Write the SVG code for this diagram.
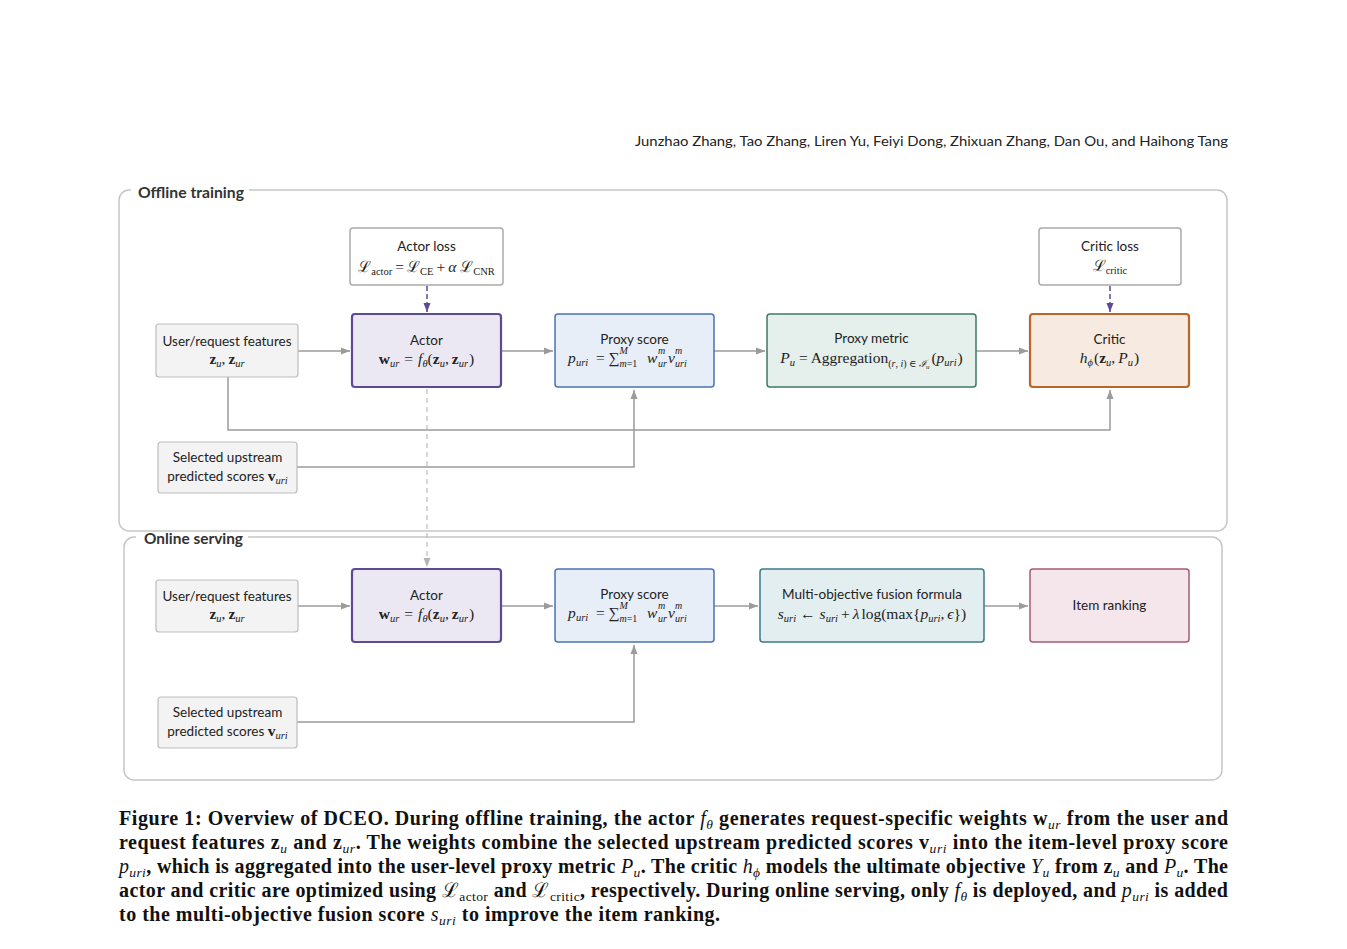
<svg xmlns="http://www.w3.org/2000/svg" width="1347" height="949" viewBox="0 0 1347 949">
<style>
.lbl{font-family:Lato,"Noto Sans",sans-serif;font-size:13.5px;fill:#222;text-anchor:middle}
.m{font-family:"Liberation Serif","DejaVu Serif",serif;font-size:15.5px;fill:#222}
.mc{text-anchor:middle}
.i{font-style:italic}
.b{font-weight:bold}
.s{font-size:10.5px}
.ss{font-size:10px}
.frame{fill:none;stroke:#c6c6c6;stroke-width:1.5}
.ftitle{font-family:Lato,"Noto Sans",sans-serif;font-weight:bold;font-size:14.5px;fill:#333}
.inp{fill:#f3f3f3;stroke:#bdbdbd;stroke-width:1.2}
.loss{fill:#fff;stroke:#aaa;stroke-width:1.5}
.actor{fill:#ece8f3;stroke:#5e4a94;stroke-width:2.2}
.proxy{fill:#e8eef7;stroke:#4a73b1;stroke-width:1.5}
.metric{fill:#e5efeb;stroke:#3f7a64;stroke-width:1.5}
.critic{fill:#f7eae0;stroke:#b9662b;stroke-width:2.2}
.fusion{fill:#e3eef1;stroke:#3c7a87;stroke-width:1.5}
.rank{fill:#f5e6eb;stroke:#a9587a;stroke-width:1.5}
.c{fill:none;stroke:#9b9b9b;stroke-width:1.5}
.cp{fill:none;stroke:#5e4a94;stroke-width:1.5;stroke-dasharray:5 3}
.cd{fill:none;stroke:#bbb;stroke-width:1.2;stroke-dasharray:5 4}
.hdr{font-family:Lato,"Noto Sans",sans-serif;font-size:14px;fill:#222}
.cap{font-family:"Liberation Serif","DejaVu Serif",serif;font-weight:bold;font-size:20px;fill:#111}
.mi{font-style:italic;font-weight:normal}
.cs{font-size:13.5px}
</style>
<defs>
<marker id="ag" markerUnits="userSpaceOnUse" markerWidth="10" markerHeight="8" refX="9" refY="4" orient="auto"><path d="M0,0.5 L9,4 L0,7.5 z" fill="#9b9b9b"/></marker>
<marker id="ap" markerUnits="userSpaceOnUse" markerWidth="10" markerHeight="8" refX="9" refY="4" orient="auto"><path d="M0,0.5 L9,4 L0,7.5 z" fill="#5e4a94"/></marker>
<marker id="al" markerUnits="userSpaceOnUse" markerWidth="10" markerHeight="8" refX="9" refY="4" orient="auto"><path d="M0,0.5 L9,4 L0,7.5 z" fill="#b5b5b5"/></marker>
</defs>
<rect width="1347" height="949" fill="#fff"/>

<text class="hdr" x="1228" y="146" text-anchor="end" textLength="593" lengthAdjust="spacingAndGlyphs">Junzhao Zhang, Tao Zhang, Liren Yu, Feiyi Dong, Zhixuan Zhang, Dan Ou, and Haihong Tang</text>

<g id="frame-offline">
<path class="frame" d="M249,190 H1217 A10,10 0 0 1 1227,200 V521 A10,10 0 0 1 1217,531 H129 A10,10 0 0 1 119,521 V200 A10,10 0 0 1 129,190 H131"/>
<text class="ftitle" x="138" y="198" textLength="106" lengthAdjust="spacingAndGlyphs">Offline training</text>
</g>
<g id="frame-online">
<path class="frame" d="M248,537 H1212 A10,10 0 0 1 1222,547 V770 A10,10 0 0 1 1212,780 H134 A10,10 0 0 1 124,770 V547 A10,10 0 0 1 134,537 H136"/>
<text class="ftitle" x="144" y="544" textLength="99" lengthAdjust="spacingAndGlyphs">Online serving</text>
</g>

<g id="connectors">
<path class="c" d="M298,351 H350" marker-end="url(#ag)"/>
<path class="c" d="M501,351 H553" marker-end="url(#ag)"/>
<path class="c" d="M714,351 H765" marker-end="url(#ag)"/>
<path class="c" d="M976,351 H1028" marker-end="url(#ag)"/>
<path class="cp" d="M427,286 V312" marker-end="url(#ap)"/>
<path class="cp" d="M1110,286 V312" marker-end="url(#ap)"/>
<path class="c" d="M228,377 V430 H1110 V390" marker-end="url(#ag)"/>
<path class="c" d="M297,467 H634 V390" marker-end="url(#ag)"/>
<path class="cd" d="M427,389 V567" marker-end="url(#al)"/>
<path class="c" d="M298,606 H350" marker-end="url(#ag)"/>
<path class="c" d="M501,606 H553" marker-end="url(#ag)"/>
<path class="c" d="M714,606 H758" marker-end="url(#ag)"/>
<path class="c" d="M984,606 H1028" marker-end="url(#ag)"/>
<path class="c" d="M297,722 H634 V645" marker-end="url(#ag)"/>
</g>

<g id="actor-loss">
<rect class="loss" x="350" y="228" width="153" height="57" rx="3"/>
<text class="lbl" x="426.5" y="251">Actor loss</text>
<text class="m mc" x="426.5" y="272">ℒ<tspan class="s" dy="3">actor</tspan><tspan dy="-3" dx="3">=</tspan><tspan dx="3">ℒ</tspan><tspan class="s" dy="3">CE</tspan><tspan dy="-3" dx="3">+</tspan><tspan class="i" dx="3">α</tspan><tspan> ℒ</tspan><tspan class="s" dy="3">CNR</tspan></text>
</g>

<g id="critic-loss">
<rect class="loss" x="1039" y="228" width="142" height="57" rx="3"/>
<text class="lbl" x="1110" y="251">Critic loss</text>
<text class="m mc" x="1110" y="271">ℒ<tspan class="s" dy="3">critic</tspan></text>
</g>

<g id="user-features-off">
<rect class="inp" x="156" y="324" width="142" height="53" rx="3"/>
<text class="lbl" x="227" y="346">User/request features</text>
<text class="m mc" x="227" y="364"><tspan class="b">z</tspan><tspan class="s i" dy="3">u</tspan><tspan dy="-3">,</tspan><tspan class="b" dx="3">z</tspan><tspan class="s i" dy="3">ur</tspan></text>
</g>

<g id="actor-off">
<rect class="actor" x="352" y="314" width="149" height="73" rx="3"/>
<text class="lbl" x="426.5" y="345">Actor</text>
<text class="m mc" x="426.5" y="364"><tspan class="b">w</tspan><tspan class="s i" dy="3">ur</tspan><tspan dy="-3" dx="5">=</tspan><tspan class="i" dx="5">f</tspan><tspan class="s i" dy="3">θ</tspan><tspan dy="-3">(</tspan><tspan class="b">z</tspan><tspan class="s i" dy="3">u</tspan><tspan dy="-3">,</tspan><tspan class="b" dx="3">z</tspan><tspan class="s i" dy="3">ur</tspan><tspan dy="-3" dx="1">)</tspan></text>
</g>

<g id="proxy-score-off">
<rect class="proxy" x="555" y="314" width="159" height="73" rx="3"/>
<text class="lbl" x="634.5" y="344">Proxy score</text>
<text class="m i" x="568" y="363">p</text>
<text class="m i s" x="576" y="366">uri</text>
<text class="m" x="596" y="363">=</text>
<text class="m" x="608.5" y="363">∑</text>
<text class="m i ss" x="619.5" y="354">M</text>
<text class="m ss" x="619.5" y="367"><tspan class="i">m</tspan>=1</text>
<text class="m i" x="647" y="363">w</text>
<text class="m i ss" x="658" y="354">m</text>
<text class="m i ss" x="658" y="367">ur</text>
<text class="m i" x="668" y="363">v</text>
<text class="m i ss" x="675" y="354">m</text>
<text class="m i ss" x="675" y="367">uri</text>
</g>

<g id="proxy-metric">
<rect class="metric" x="767" y="314" width="209" height="73" rx="3"/>
<text class="lbl" x="871.5" y="343">Proxy metric</text>
<text class="m mc" x="871.5" y="363"><tspan class="i">P</tspan><tspan class="s i" dy="3">u</tspan><tspan dy="-3" dx="4">=</tspan><tspan dx="3">Aggregation</tspan><tspan class="ss" dy="4">(</tspan><tspan class="ss i">r</tspan><tspan class="ss">, </tspan><tspan class="ss i">i</tspan><tspan class="ss">) ∈ </tspan><tspan class="ss i">ℐ</tspan><tspan class="i" font-size="7" dy="2">u</tspan><tspan dy="-6" dx="2">(</tspan><tspan class="i">p</tspan><tspan class="s i" dy="3">uri</tspan><tspan dy="-3" dx="1">)</tspan></text>
</g>

<g id="critic">
<rect class="critic" x="1030" y="314" width="159" height="73" rx="3"/>
<text class="lbl" x="1109.5" y="344">Critic</text>
<text class="m mc" x="1109.5" y="363"><tspan class="i">h</tspan><tspan class="s i" dy="3">ϕ</tspan><tspan dy="-3" dx="1">(</tspan><tspan class="b">z</tspan><tspan class="s i" dy="3">u</tspan><tspan dy="-3">,</tspan><tspan class="i" dx="3">P</tspan><tspan class="s i" dy="3">u</tspan><tspan dy="-3" dx="1">)</tspan></text>
</g>

<g id="upstream-off">
<rect class="inp" x="158" y="442" width="139" height="51" rx="3"/>
<text class="lbl" x="227.5" y="462">Selected upstream</text>
<text class="lbl" x="227.5" y="481">predicted scores <tspan class="m b">v</tspan><tspan class="m s i" dy="3">uri</tspan></text>
</g>

<g id="user-features-on">
<rect class="inp" x="156" y="580" width="142" height="52" rx="3"/>
<text class="lbl" x="227" y="601">User/request features</text>
<text class="m mc" x="227" y="619"><tspan class="b">z</tspan><tspan class="s i" dy="3">u</tspan><tspan dy="-3">,</tspan><tspan class="b" dx="3">z</tspan><tspan class="s i" dy="3">ur</tspan></text>
</g>

<g id="actor-on">
<rect class="actor" x="352" y="569" width="149" height="73" rx="3"/>
<text class="lbl" x="426.5" y="600">Actor</text>
<text class="m mc" x="426.5" y="619"><tspan class="b">w</tspan><tspan class="s i" dy="3">ur</tspan><tspan dy="-3" dx="5">=</tspan><tspan class="i" dx="5">f</tspan><tspan class="s i" dy="3">θ</tspan><tspan dy="-3">(</tspan><tspan class="b">z</tspan><tspan class="s i" dy="3">u</tspan><tspan dy="-3">,</tspan><tspan class="b" dx="3">z</tspan><tspan class="s i" dy="3">ur</tspan><tspan dy="-3" dx="1">)</tspan></text>
</g>

<g id="proxy-score-on">
<rect class="proxy" x="555" y="569" width="159" height="73" rx="3"/>
<text class="lbl" x="634.5" y="599">Proxy score</text>
<text class="m i" x="568" y="618">p</text>
<text class="m i s" x="576" y="621">uri</text>
<text class="m" x="596" y="618">=</text>
<text class="m" x="608.5" y="618">∑</text>
<text class="m i ss" x="619.5" y="609">M</text>
<text class="m ss" x="619.5" y="622"><tspan class="i">m</tspan>=1</text>
<text class="m i" x="647" y="618">w</text>
<text class="m i ss" x="658" y="609">m</text>
<text class="m i ss" x="658" y="622">ur</text>
<text class="m i" x="668" y="618">v</text>
<text class="m i ss" x="675" y="609">m</text>
<text class="m i ss" x="675" y="622">uri</text>
</g>

<g id="fusion">
<rect class="fusion" x="760" y="569" width="224" height="73" rx="3"/>
<text class="lbl" x="872" y="599">Multi-objective fusion formula</text>
<text class="m mc" x="872" y="619"><tspan class="i">s</tspan><tspan class="s i" dy="3">uri</tspan><tspan dy="-3" dx="4">←</tspan><tspan class="i" dx="4">s</tspan><tspan class="s i" dy="3">uri</tspan><tspan dy="-3" dx="3">+</tspan><tspan class="i" dx="3">λ</tspan><tspan dx="2">log(max{</tspan><tspan class="i">p</tspan><tspan class="s i" dy="3">uri</tspan><tspan dy="-3">,</tspan><tspan class="i" dx="3">ϵ</tspan><tspan>})</tspan></text>
</g>

<g id="item-ranking">
<rect class="rank" x="1030" y="569" width="159" height="73" rx="3"/>
<text class="lbl" x="1109.5" y="610">Item ranking</text>
</g>

<g id="upstream-on">
<rect class="inp" x="158" y="697" width="139" height="51" rx="3"/>
<text class="lbl" x="227.5" y="717">Selected upstream</text>
<text class="lbl" x="227.5" y="736">predicted scores <tspan class="m b">v</tspan><tspan class="m s i" dy="3">uri</tspan></text>
</g>

<g id="caption">
<text class="cap" x="119" y="825" textLength="1109" lengthAdjust="spacing">Figure 1: Overview of DCEO. During offline training, the actor <tspan class="mi">f</tspan><tspan class="mi cs" dy="4">θ</tspan><tspan dy="-4"> generates request-specific weights w</tspan><tspan class="mi cs" dy="4">ur</tspan><tspan dy="-4"> from the user and</tspan></text>
<text class="cap" x="119" y="849" textLength="1109" lengthAdjust="spacing">request features z<tspan class="mi cs" dy="4">u</tspan><tspan dy="-4"> and z</tspan><tspan class="mi cs" dy="4">ur</tspan><tspan dy="-4">. The weights combine the selected upstream predicted scores v</tspan><tspan class="mi cs" dy="4">uri</tspan><tspan dy="-4"> into the item-level proxy score</tspan></text>
<text class="cap" x="119" y="873" textLength="1109" lengthAdjust="spacing"><tspan class="mi">p</tspan><tspan class="mi cs" dy="4">uri</tspan><tspan dy="-4">, which is aggregated into the user-level proxy metric </tspan><tspan class="mi">P</tspan><tspan class="mi cs" dy="4">u</tspan><tspan dy="-4">. The critic </tspan><tspan class="mi">h</tspan><tspan class="mi cs" dy="4">ϕ</tspan><tspan dy="-4"> models the ultimate objective </tspan><tspan class="mi">Y</tspan><tspan class="mi cs" dy="4">u</tspan><tspan dy="-4"> from z</tspan><tspan class="mi cs" dy="4">u</tspan><tspan dy="-4"> and </tspan><tspan class="mi">P</tspan><tspan class="mi cs" dy="4">u</tspan><tspan dy="-4">. The</tspan></text>
<text class="cap" x="119" y="897" textLength="1109" lengthAdjust="spacing">actor and critic are optimized using <tspan font-weight="normal">ℒ</tspan><tspan font-weight="normal" class="cs" dy="4">actor</tspan><tspan dy="-4"> and </tspan><tspan font-weight="normal">ℒ</tspan><tspan font-weight="normal" class="cs" dy="4">critic</tspan><tspan dy="-4">, respectively. During online serving, only </tspan><tspan class="mi">f</tspan><tspan class="mi cs" dy="4">θ</tspan><tspan dy="-4"> is deployed, and </tspan><tspan class="mi">p</tspan><tspan class="mi cs" dy="4">uri</tspan><tspan dy="-4"> is added</tspan></text>
<text class="cap" x="119" y="921" textLength="601" lengthAdjust="spacing">to the multi-objective fusion score <tspan class="mi">s</tspan><tspan class="mi cs" dy="4">uri</tspan><tspan dy="-4"> to improve the item ranking.</tspan></text>
</g>
</svg>
